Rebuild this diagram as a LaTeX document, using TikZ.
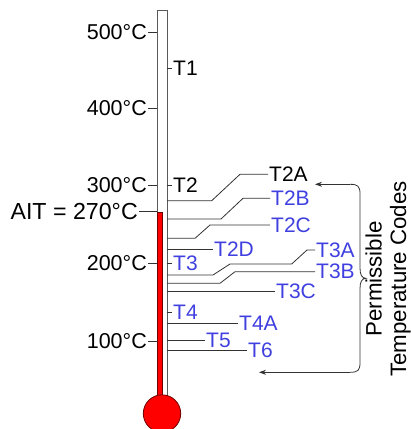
\documentclass[tikz,border=0pt]{standalone}
\usepackage{fontspec}
\setmainfont{Liberation Sans}
\usetikzlibrary{arrows.meta}
\definecolor{codeblue}{RGB}{64,64,224}
\definecolor{linegrey}{RGB}{50,50,50}
\definecolor{tubegrey}{RGB}{90,90,90}
\definecolor{darkred}{RGB}{110,0,0}
\begin{document}
\begin{tikzpicture}[x=1pt,y=-1pt,
  ln/.style={draw=linegrey,line width=0.8pt},
  tl/.style={anchor=west,inner sep=1pt,font=\fontsize{21}{23}\selectfont},
  bl/.style={tl,text=codeblue},
  templ/.style={anchor=east,inner sep=1pt,font=\fontsize{21.5}{23}\selectfont},
  arr/.style={ln,-{Stealth[length=7pt,width=5pt]}}]
\useasboundingbox (0,0) rectangle (411,429);
% tube
\draw[draw=tubegrey,line width=0.8pt,fill=white] (157,10) rectangle (167,400);
\draw[draw=darkred,line width=0.7pt,fill=red] (157,212.5) rectangle (162.5,400);
\draw[draw=darkred,line width=0.8pt,fill=red] (162,413.5) circle (18.7);
% left scale
\node[templ] (c500) at (148,32) {500°C};
\node[templ] (c400) at (148,108) {400°C};
\node[templ] (c300) at (148,185) {300°C};
\node[templ,font=\fontsize{23.2}{25}\selectfont] (ait) at (139,211.7) {AIT = 270°C};
\node[templ] (c200) at (148,263) {200°C};
\node[templ] (c100) at (148,341) {100°C};
\coordinate (k500) at (157,32);
\coordinate (k400) at (157,108);
\coordinate (k300) at (157,185);
\coordinate (kait) at (157,211.7);
\coordinate (k200) at (157,263);
\coordinate (k100) at (157,341);
\draw[ln] (c500.east) -- (k500);
\draw[ln] (c400.east) -- (k400);
\draw[ln] (c300.east) -- (k300);
\draw[ln] (ait.east) -- (kait);
\draw[ln] (c200.east) -- (k200);
\draw[ln] (c100.east) -- (k100);
% right ticks
\node[tl] (t1) at (172,68) {T1};
\node[tl] (t2) at (172,185) {T2};
\node[bl] (t3) at (172,263) {T3};
\node[bl] (t4) at (172,312) {T4};
\coordinate (r1) at (167,68);
\coordinate (r2) at (167,185);
\coordinate (r3) at (167,263);
\coordinate (r4) at (167,312);
\draw[ln] (r1) -- (t1.west);
\draw[ln] (r2) -- (t2.west);
\draw[ln] (r3) -- (t3.west);
\draw[ln] (r4) -- (t4.west);
% code labels
\node[tl] (t2a) at (268,174.3) {T2A};
\node[bl] (t2b) at (270,198.3) {T2B};
\node[bl] (t2c) at (270,225) {T2C};
\node[bl] (t2d) at (213,249.3) {T2D};
\node[bl] (t3a) at (315,250) {T3A};
\node[bl] (t3b) at (315,271.7) {T3B};
\node[bl] (t3c) at (275,291) {T3C};
\node[bl] (t4a) at (238,323.3) {T4A};
\node[bl] (t5) at (205,340) {T5};
\node[bl] (t6) at (247,350) {T6};
\coordinate (s2a) at (167,200.7);
\coordinate (s2b) at (167,219);
\coordinate (s2c) at (167,238.3);
\coordinate (s2d) at (167,249.3);
\coordinate (s3a) at (167,275);
\coordinate (s3b) at (167,283.3);
\coordinate (s3c) at (167,291);
\coordinate (s4a) at (167,323.3);
\coordinate (s5) at (167,340);
\coordinate (s6) at (167,350);
\draw[ln] (s2a) -- (211.7,200.7) -- (240,174.3) -- (t2a.west);
\draw[ln] (s2b) -- (221,219) -- (243,198.3) -- (t2b.west);
\draw[ln] (s2c) -- (195,238.3) -- (210,225) -- (t2c.west);
\draw[ln] (s2d) -- (t2d.west);
\draw[ln] (s3a) -- (213,275) -- (230,264) -- (291.7,264) -- (307,250) -- (t3a.west);
\draw[ln] (s3b) -- (220,283.3) -- (235,271.7) -- (t3b.west);
\draw[ln] (s3c) -- (t3c.west);
\draw[ln] (s4a) -- (t4a.west);
\draw[ln] (s5) -- (t5.west);
\draw[ln] (s6) -- (t6.west);
% brace with arrows
\coordinate (atop) at (315,184.3);
\coordinate (abot) at (259,372.3);
\draw[arr] (350,184.3) -- (atop);
\draw[arr] (350,372.3) -- (abot);
\draw[ln] (350,184.3) .. controls (358,184.3) and (360,186.3) .. (360,194)
  -- (360,268) .. controls (360,275) and (362,278.3) .. (366,278.3)
  .. controls (362,278.3) and (360,281.6) .. (360,288.6)
  -- (360,362.6) .. controls (360,370.3) and (358,372.3) .. (350,372.3);
\node[rotate=90,align=center,font=\fontsize{22.3}{24.5}\selectfont,inner sep=0pt] (perm) at (388,279) {Permissible\\Temperature Codes};
\end{tikzpicture}
\end{document}
